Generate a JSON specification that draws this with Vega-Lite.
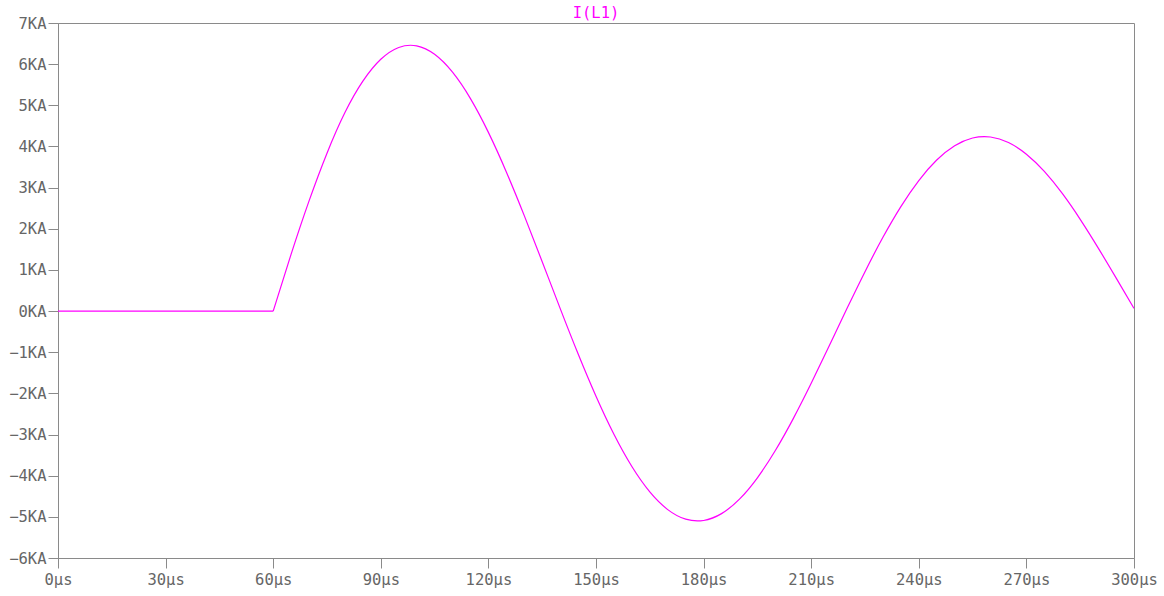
{
  "$schema": "https://vega.github.io/schema/vega-lite/v6.json",
  "width": 1076,
  "height": 535,
  "autosize": "none",
  "padding": {"left": 58, "top": 23, "right": 30, "bottom": 38},
  "background": "white",
  "config": {
    "view": {"stroke": "#8a8a8a", "strokeWidth": 1},
    "font": "DejaVu Sans Mono"
  },
  "title": {
    "text": "I(L1)",
    "color": "#ff00ff",
    "font": "DejaVu Sans Mono",
    "fontSize": 15.5,
    "fontWeight": "normal",
    "anchor": "middle",
    "offset": -5
  },
  "data": {
    "values": [
      {"seg": "a", "t": 0, "i": 0},
      {"seg": "a", "t": 60, "i": 0},
      {"seg": "b", "t": 60, "i": 0},
      {"seg": "b", "t": 65, "i": 1.383},
      {"seg": "b", "t": 70, "i": 2.677},
      {"seg": "b", "t": 75, "i": 3.837},
      {"seg": "b", "t": 80, "i": 4.823},
      {"seg": "b", "t": 85, "i": 5.586},
      {"seg": "b", "t": 90, "i": 6.118},
      {"seg": "b", "t": 95, "i": 6.406},
      {"seg": "b", "t": 100, "i": 6.445},
      {"seg": "b", "t": 105, "i": 6.239},
      {"seg": "b", "t": 110, "i": 5.804},
      {"seg": "b", "t": 115, "i": 5.162},
      {"seg": "b", "t": 120, "i": 4.342},
      {"seg": "b", "t": 125, "i": 3.381},
      {"seg": "b", "t": 130, "i": 2.319},
      {"seg": "b", "t": 135, "i": 1.2},
      {"seg": "b", "t": 140, "i": 0.066},
      {"seg": "b", "t": 145, "i": -1.038},
      {"seg": "b", "t": 150, "i": -2.07},
      {"seg": "b", "t": 155, "i": -2.995},
      {"seg": "b", "t": 160, "i": -3.778},
      {"seg": "b", "t": 165, "i": -4.394},
      {"seg": "b", "t": 170, "i": -4.824},
      {"seg": "b", "t": 175, "i": -5.057},
      {"seg": "b", "t": 180, "i": -5.088},
      {"seg": "b", "t": 185, "i": -4.922},
      {"seg": "b", "t": 190, "i": -4.57},
      {"seg": "b", "t": 195, "i": -4.051},
      {"seg": "b", "t": 200, "i": -3.389},
      {"seg": "b", "t": 205, "i": -2.613},
      {"seg": "b", "t": 210, "i": -1.755},
      {"seg": "b", "t": 215, "i": -0.85},
      {"seg": "b", "t": 220, "i": 0.066},
      {"seg": "b", "t": 225, "i": 0.958},
      {"seg": "b", "t": 230, "i": 1.792},
      {"seg": "b", "t": 235, "i": 2.539},
      {"seg": "b", "t": 240, "i": 3.172},
      {"seg": "b", "t": 245, "i": 3.67},
      {"seg": "b", "t": 250, "i": 4.017},
      {"seg": "b", "t": 255, "i": 4.205},
      {"seg": "b", "t": 260, "i": 4.23},
      {"seg": "b", "t": 265, "i": 4.096},
      {"seg": "b", "t": 270, "i": 3.812},
      {"seg": "b", "t": 275, "i": 3.393},
      {"seg": "b", "t": 280, "i": 2.858},
      {"seg": "b", "t": 285, "i": 2.23},
      {"seg": "b", "t": 290, "i": 1.537},
      {"seg": "b", "t": 295, "i": 0.806},
      {"seg": "b", "t": 300, "i": 0.066}
    ]
  },
  "mark": {"type": "line", "color": "#ff00ff", "strokeWidth": 1.2, "interpolate": "natural", "clip": true},
  "encoding": {
    "detail": {"field": "seg", "type": "nominal"},
    "x": {
      "field": "t",
      "type": "quantitative",
      "scale": {"domain": [0, 300], "nice": false, "zero": false},
      "axis": {
        "title": null,
        "grid": false,
        "values": [0, 30, 60, 90, 120, 150, 180, 210, 240, 270, 300],
        "labelExpr": "datum.label + 'µs'",
        "labelFont": "DejaVu Sans Mono",
        "labelFontSize": 15.5,
        "labelColor": "#666666",
        "labelPadding": 4,
        "tickSize": 10,
        "tickColor": "#8a8a8a",
        "domainColor": "#8a8a8a",
        "labelFlush": false,
        "labelOverlap": false
      }
    },
    "y": {
      "field": "i",
      "type": "quantitative",
      "scale": {"domain": [-6, 7], "nice": false, "zero": false},
      "axis": {
        "title": null,
        "grid": false,
        "values": [-6, -5, -4, -3, -2, -1, 0, 1, 2, 3, 4, 5, 6, 7],
        "labelExpr": "datum.label + 'KA'",
        "labelFont": "DejaVu Sans Mono",
        "labelFontSize": 15.5,
        "labelColor": "#666666",
        "labelPadding": 2,
        "tickSize": 10,
        "tickColor": "#8a8a8a",
        "domainColor": "#8a8a8a",
        "labelOverlap": false
      }
    }
  }
}
